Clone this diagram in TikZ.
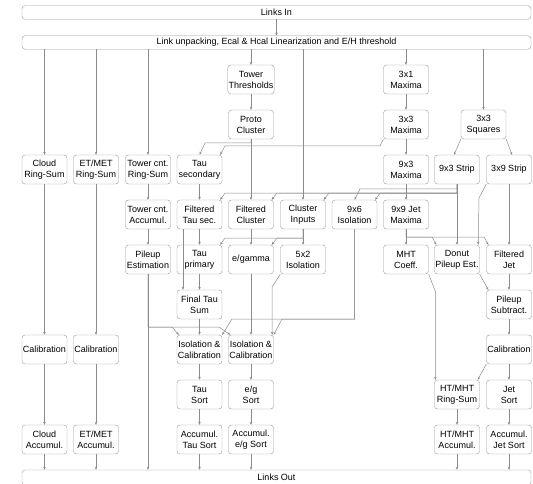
\documentclass[tikz,border=0pt]{standalone}
\usepackage{fontspec}
\setmainfont{Liberation Sans}
\usetikzlibrary{arrows.meta}

\begin{document}
\begin{tikzpicture}[x=1pt, y=-1pt,
    blk/.style={draw=black!40, fill=white, rounded corners=3pt, minimum width=45pt, minimum height=29pt,
      inner sep=1pt, align=center, font=\fontsize{9}{11}\selectfont},
    bar/.style={blk, minimum width=509pt, minimum height=13.5pt},
    conn/.style={draw=black!45, line width=0.5pt, -{Stealth[length=3pt,width=2.6pt]}}]
  \useasboundingbox (0,0) rectangle (533,484);
  \clip (0,0) rectangle (533,484);

  % Nodes
  \node[bar] (linksIn) at (276.5,12.5) {Links In};
  \node[bar] (unpack) at (276.5,42.5) {Link unpacking, Ecal \& Hcal Linearization and E/H threshold};
  \node[bar, minimum height=15pt] (linksOut) at (276.5,477.5) {Links Out};

  \foreach \n/\x/\t in {towThr/251/{Tower\\Thresholds}, max31/406/{3x1\\Maxima}}
    \node[blk] (\n) at (\x,79.5) {\t};
  \foreach \n/\x/\t in {proto/251/{Proto\\Cluster}, max33/406/{3x3\\Maxima}, sq33/483.5/{3x3\\Squares}}
    \node[blk] (\n) at (\x,124.5) {\t};
  \foreach \n/\x/\t in {cloudRS/44.5/{Cloud\\Ring-Sum}, etmetRS/96/{ET/MET\\Ring-Sum},
      towRS/148/{Tower cnt.\\Ring-Sum}, tauSec/199.5/{Tau\\secondary}, max93/406/{9x3\\Maxima},
      strip93/457/{9x3 Strip}, strip39/509/{3x9 Strip}}
    \node[blk] (\n) at (\x,169.5) {\t};
  \foreach \n/\x/\t in {towAcc/148/{Tower cnt.\\Accumul.}, filtTau/199.5/{Filtered\\Tau sec.},
      filtClu/251/{Filtered\\Cluster}, cluIn/303/{Cluster\\Inputs}, iso96/354.5/{9x6\\Isolation},
      jetMax/406/{9x9 Jet\\Maxima}}
    \node[blk] (\n) at (\x,214.5) {\t};
  \foreach \n/\x/\t in {pileupEst/148/{Pileup\\Estimation}, tauPrim/199.5/{Tau\\primary},
      egamma/251/{e/gamma}, iso52/303/{5x2\\Isolation}, mhtCoeff/406/{MHT\\Coeff.},
      donut/457/{Donut\\Pileup Est.}, filtJet/509/{Filtered\\Jet}}
    \node[blk] (\n) at (\x,259.5) {\t};
  \foreach \n/\x/\t in {finalTau/199.5/{Final Tau\\Sum}, pileupSub/509/{Pileup\\Subtract.}}
    \node[blk] (\n) at (\x,304.5) {\t};
  \foreach \n/\x/\t in {cloudCal/44.5/{Calibration}, etmetCal/96/{Calibration},
      tauIsoCal/199.5/{Isolation \&\\Calibration}, egIsoCal/251/{Isolation \&\\Calibration},
      jetCal/509/{Calibration}}
    \node[blk] (\n) at (\x,349.5) {\t};
  \foreach \n/\x/\t in {tauSort/199.5/{Tau\\Sort}, egSort/251/{e/g\\Sort},
      htRS/457/{HT/MHT\\Ring-Sum}, jetSort/509/{Jet\\Sort}}
    \node[blk] (\n) at (\x,394.5) {\t};
  \foreach \n/\x/\t in {cloudAcc/44.5/{Cloud\\Accumul.}, etmetAcc/96/{ET/MET\\Accumul.},
      tauAcc/199.5/{Accumul.\\Tau Sort}, egAcc/251/{Accumul.\\e/g Sort},
      htAcc/457/{HT/MHT\\Accumul.}, jetAcc/509/{Accumul.\\Jet Sort}}
    \node[blk] (\n) at (\x,439.5) {\t};

  % Arrows
  \draw[conn] (linksIn) -- (unpack);
  \foreach \n in {cloudRS, etmetRS, towRS, towThr, cluIn, max31, sq33}
    \draw[conn] (\n |- unpack.south) -- (\n);
  \foreach \n in {cloudAcc, etmetAcc, pileupEst, tauAcc, egAcc, htAcc, jetAcc}
    \draw[conn] (\n) -- (\n |- linksOut.north);
  \foreach \a/\b in {towThr/proto, max31/max33, max33/max93, max93/jetMax, proto/filtClu,
      strip93/donut, strip39/filtJet, cloudRS/cloudCal, cloudCal/cloudAcc, etmetRS/etmetCal,
      etmetCal/etmetAcc, towRS/towAcc, towAcc/pileupEst, tauSec/filtTau, filtTau/tauPrim,
      tauPrim/finalTau, finalTau/tauIsoCal, tauIsoCal/tauSort, tauSort/tauAcc, filtClu/egamma,
      egamma/egIsoCal, egIsoCal/egSort, egSort/egAcc, cluIn/iso52, jetMax/mhtCoeff,
      filtJet/pileupSub, pileupSub/jetCal, jetCal/jetSort, jetSort/jetAcc, htRS/htAcc}
    \draw[conn] (\a) -- (\b);

  \draw[conn] (sq33.south west) -- ([xshift=-3pt]strip93.north);
  \draw[conn] (sq33.south east) -- ([xshift=3pt]strip39.north);
  \draw[conn] (proto.south) |- (205,143) -- (tauSec.north);
  \draw[conn] (max33.south west) -- (380,146) -- (225,146) -- ([xshift=-2pt]tauSec.north east);
  \draw[conn] (strip93.south) |- (360,189) -- (iso96.north);
  \foreach \n/\bx in {filtTau/225, filtClu/277, cluIn/329, iso96/380}
    \draw[conn] (strip93.south) |- (\bx,193) -- ([xshift=-2pt]\n.north east);
  \foreach \n/\bx in {tauPrim/225, egamma/277}
    \draw[conn] (cluIn.south) |- (\bx,238) -- ([xshift=-2pt]\n.north east);
  \draw[conn] ([xshift=-16.5pt]filtTau.south) -- ([xshift=-16.5pt]finalTau.north);
  \foreach \n/\bx in {tauIsoCal/172, egIsoCal/219}
    \draw[conn] (pileupEst.south) |- (\bx,327) -- ([xshift=2pt]\n.north west);
  \foreach \n/\bx in {tauIsoCal/232, egIsoCal/282}
    \draw[conn] (iso96.south) |- (\bx,319) -- (\n.north east);
  \draw[conn] (iso52.south west) -- (272,287) -- ([xshift=-1.5pt]egIsoCal.north east);
  \foreach \n/\bx in {donut/432, filtJet/484}
    \draw[conn] (jetMax.south) |- (\bx,237) -- ([xshift=2pt]\n.north west);
  \draw[conn] (strip39.south west) -- (479,198) -- ([xshift=-1.5pt]donut.north east);
  \draw[conn] (donut.south east) -- ([xshift=2pt]pileupSub.north west);
  \draw[conn] (jetCal.south west) -- ([xshift=-2pt]htRS.north east);
  \draw[conn] (mhtCoeff.south east) -- (435.5,292) -- ([xshift=1pt]htRS.north west);
\end{tikzpicture}
\end{document}
